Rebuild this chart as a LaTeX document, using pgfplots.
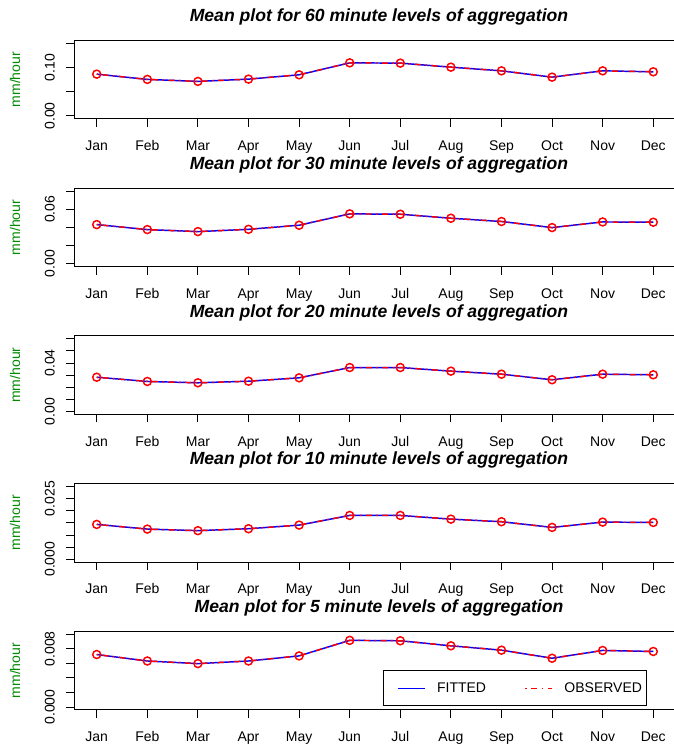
\documentclass[border=0pt]{standalone}
\usepackage{fontspec}
\setmainfont{Liberation Sans}
\usepackage{pgfplots}
\usepackage{pgfplotstable}
\pgfplotsset{compat=1.18}
\definecolor{rgreen}{RGB}{0,139,0}

\pgfplotstableread{
m h60 h30 h20 h10 h5
1 0.0864 0.0431 0.0283 0.01438 0.00722
2 0.0755 0.0376 0.0248 0.01245 0.00633
3 0.0714 0.0354 0.0237 0.01180 0.00597
4 0.0761 0.0379 0.0250 0.01260 0.00633
5 0.0850 0.0424 0.0278 0.01410 0.00703
6 0.1097 0.0549 0.0363 0.01808 0.00917
7 0.1091 0.0545 0.0363 0.01808 0.00911
8 0.1008 0.0501 0.0333 0.01656 0.00842
9 0.0932 0.0465 0.0308 0.01549 0.00782
10 0.0802 0.0398 0.0262 0.01315 0.00671
11 0.0932 0.0460 0.0308 0.01533 0.00778
12 0.0912 0.0457 0.0303 0.01520 0.00764
}\datatable

\pgfplotsset{
  panel/.style={
    scale only axis, width=450.8pt, height=58.875pt,
    xmin=0.56, xmax=12.44,
    xtick={1,...,12},
    xticklabels={Jan,Feb,Mar,Apr,May,Jun,Jul,Aug,Sep,Oct,Nov,Dec},
    scaled y ticks=false,
    tick align=outside, xtick pos=left, ytick pos=left,
    major tick length=6pt,
    every tick/.style={black, line width=0.75pt},
    axis line style={black, line width=0.8pt},
    tick label style={font=\fontsize{10.5}{12}\selectfont},
    xticklabel style={anchor=base, inner sep=0pt, yshift=-17.85pt},
    yticklabel style={rotate=90, anchor=south, inner sep=0pt},
    yticklabel shift=8.55pt,
    /pgf/number format/assume math mode=true,
    ylabel={mm/hour},
    every axis y label/.style={at={(axis description cs:-0.0989,0.5)}, rotate=90, anchor=center, text=rgreen, font=\fontsize{10.5}{12}\selectfont},
    every axis title/.style={at={(axis description cs:0.5,1)}, anchor=base, yshift=14pt, xshift=3pt, font=\fontsize{13.2}{15}\selectfont\bfseries\itshape},
  },
  fit/.style={blue, line width=1.1pt},
  obs/.style={red, line width=1.1pt, dash pattern=on 1.1pt off 3.4pt on 4.5pt off 3.4pt, mark=o, mark size=3pt, mark options={solid, line width=1.1pt}},
}

\begin{document}
\begin{tikzpicture}
\useasboundingbox (0,0) rectangle (505.5pt,-558pt);

\begin{axis}[panel, at={(55.85pt,-30.3pt)}, anchor=north west,
  title={Mean plot for 60 minute levels of aggregation},
  ymin=-0.006, ymax=0.156, ytick={0,0.05,0.10,0.15}, yticklabels={0.00,,0.10,}]
\addplot[fit] table[x=m,y=h60]{\datatable};
\addplot[obs] table[x=m,y=h60]{\datatable};
\end{axis}

\begin{axis}[panel, at={(55.85pt,-141.11pt)}, anchor=north west,
  title={Mean plot for 30 minute levels of aggregation},
  ymin=-0.0032, ymax=0.0832, ytick={0,0.02,0.04,0.06,0.08}, yticklabels={0.00,,,0.06,}]
\addplot[fit] table[x=m,y=h30]{\datatable};
\addplot[obs] table[x=m,y=h30]{\datatable};
\end{axis}

\begin{axis}[panel, at={(55.85pt,-251.93pt)}, anchor=north west,
  title={Mean plot for 20 minute levels of aggregation},
  ymin=-0.0024, ymax=0.0624, ytick={0,0.01,0.02,0.03,0.04,0.05,0.06}, yticklabels={0.00,,,,0.04,,}]
\addplot[fit] table[x=m,y=h20]{\datatable};
\addplot[obs] table[x=m,y=h20]{\datatable};
\end{axis}

\begin{axis}[panel, at={(55.85pt,-362.74pt)}, anchor=north west,
  title={Mean plot for 10 minute levels of aggregation},
  ymin=-0.0012, ymax=0.0312, ytick={0,0.005,0.01,0.015,0.02,0.025,0.03}, yticklabels={0.000,,,,,0.025,}]
\addplot[fit] table[x=m,y=h10]{\datatable};
\addplot[obs] table[x=m,y=h10]{\datatable};
\end{axis}

\begin{axis}[panel, at={(55.85pt,-473.55pt)}, anchor=north west,
  title={Mean plot for 5 minute levels of aggregation},
  ymin=-0.0004, ymax=0.0104, ytick={0,0.002,0.004,0.006,0.008,0.010}, yticklabels={0.000,,,,0.008,},
  legend columns=2,
  legend image code/.code={\path (0pt,0pt); \draw[#1] (9pt,0pt) -- (29pt,0pt);},
  legend style={at={(0.9517,0.045)}, anchor=south east, draw=black, line width=0.75pt,
    font=\fontsize{10.5}{12}\selectfont, inner xsep=1pt, inner ysep=6.8pt,
    /tikz/every odd column/.append style={column sep=6.7pt},
    /tikz/every even column/.append style={column sep=18pt}}]
\addplot[fit] table[x=m,y=h5]{\datatable};
\addlegendentry{FITTED}
\addplot[obs] table[x=m,y=h5]{\datatable};
\addlegendentry{OBSERVED}
\end{axis}
\end{tikzpicture}
\end{document}
